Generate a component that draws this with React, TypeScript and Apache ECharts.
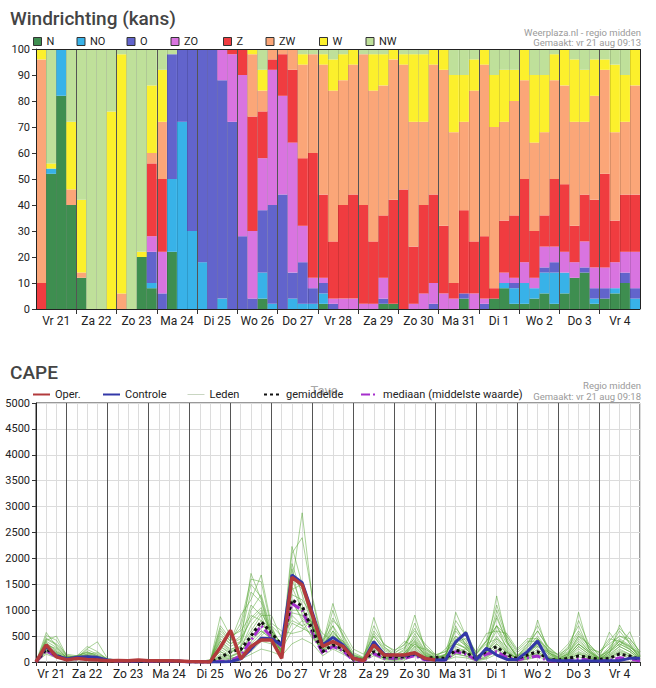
import React, { useEffect, useRef } from 'react';
import * as echarts from 'echarts';

// ---------- shared day labels ----------
const dayLabels = ['Vr 21', 'Za 22', 'Zo 23', 'Ma 24', 'Di 25', 'Wo 26', 'Do 27', 'Vr 28', 'Za 29', 'Zo 30', 'Ma 31', 'Di 1', 'Wo 2', 'Do 3', 'Vr 4'];
const slotHours = ['00', '06', '12', '18'];
const barSlots = dayLabels.flatMap((d) => slotHours.map((h) => `${d} ${h}`));

// ---------- wind direction probabilities (%) per 6h slot ----------
const dirNames = ['N', 'NO', 'O', 'ZO', 'Z', 'ZW', 'W', 'NW'];
const dirColors = ['#3e8e50', '#38b2e8', '#6264cc', '#d974e0', '#f03c40', '#fba678', '#fcf02c', '#bfe09a'];

const probN = [0, 52, 82, 40, 12, 0, 0, 0, 0, 0, 20, 8, 0, 22, 0, 0, 0, 0, 0, 0, 0, 0, 4, 0, 0, 0, 0, 0, 2, 0, 0, 0, 0, 0, 2, 2, 0, 0, 0, 0, 0, 0, 4, 0, 0, 4, 8, 2, 2, 4, 6, 2, 6, 12, 14, 2, 4, 6, 10, 0];
const probNO = [0, 2, 18, 0, 0, 0, 0, 0, 0, 0, 0, 2, 0, 28, 72, 30, 18, 0, 4, 0, 0, 0, 10, 2, 0, 4, 2, 2, 4, 0, 0, 0, 0, 0, 0, 0, 0, 0, 0, 0, 0, 0, 0, 0, 0, 0, 2, 6, 8, 4, 8, 12, 8, 0, 0, 2, 0, 2, 0, 4];
const probO = [0, 0, 0, 0, 0, 0, 0, 0, 0, 0, 0, 12, 6, 48, 28, 70, 82, 100, 84, 72, 28, 4, 24, 38, 44, 10, 16, 6, 4, 2, 0, 0, 0, 0, 2, 0, 0, 0, 0, 2, 0, 0, 2, 0, 2, 0, 0, 2, 0, 0, 2, 4, 0, 0, 2, 4, 4, 0, 4, 4];
const probZO = [0, 0, 0, 0, 0, 0, 0, 0, 0, 0, 0, 6, 16, 0, 0, 0, 0, 0, 12, 26, 62, 26, 20, 52, 38, 50, 14, 4, 2, 2, 4, 4, 2, 2, 8, 0, 0, 2, 6, 8, 6, 4, 0, 6, 2, 0, 4, 2, 8, 4, 8, 6, 8, 6, 10, 8, 8, 10, 8, 14];
const probZ = [10, 0, 0, 0, 0, 0, 0, 0, 0, 0, 0, 28, 28, 0, 0, 0, 0, 0, 0, 2, 10, 44, 18, 4, 16, 28, 26, 48, 32, 22, 36, 40, 38, 24, 24, 40, 46, 22, 34, 34, 26, 6, 32, 20, 24, 4, 20, 24, 32, 18, 12, 26, 26, 14, 18, 26, 36, 16, 22, 22];
const probZW = [86, 0, 0, 6, 2, 0, 0, 0, 6, 0, 0, 4, 22, 0, 0, 0, 0, 0, 0, 0, 0, 24, 8, 4, 2, 8, 36, 38, 50, 58, 48, 50, 58, 58, 50, 54, 48, 48, 32, 50, 60, 58, 34, 58, 66, 62, 38, 44, 38, 34, 32, 38, 38, 40, 28, 40, 40, 34, 28, 42];
const probW = [4, 2, 0, 26, 28, 0, 0, 76, 92, 0, 2, 26, 20, 0, 0, 0, 0, 0, 0, 0, 0, 2, 8, 0, 0, 0, 4, 0, 4, 12, 10, 6, 0, 14, 12, 4, 4, 26, 26, 6, 8, 22, 18, 12, 6, 20, 20, 12, 12, 26, 22, 10, 14, 24, 20, 14, 4, 26, 18, 14];
const probNW = [0, 44, 0, 28, 58, 100, 100, 24, 2, 100, 78, 14, 8, 2, 0, 0, 0, 0, 0, 0, 0, 0, 8, 0, 0, 0, 2, 2, 2, 4, 2, 0, 2, 2, 2, 0, 2, 2, 2, 0, 0, 10, 10, 4, 0, 10, 8, 8, 0, 10, 10, 2, 0, 4, 8, 4, 4, 6, 10, 0];
const dirValues = [probN, probNO, probO, probZO, probZ, probZW, probW, probNW];

// ---------- CAPE (J/kg) every 6 h from vr 21 06:00 ----------
const capeHours = Array.from({ length: 60 }, (_, i) => 6 + 6 * i);
const capeDayLabelHours = [15, 36, 60, 84, 108, 132, 156, 180, 204, 228, 252, 276, 300, 324, 348];

const capeOper = [0, 330, 100, 40, 70, 50, 40, 25, 30, 25, 40, 25, 25, 25, 20, 10, 5, 0, 280, 610, 60, 300, 425, 425, 70, 1635, 1490, 900, 300, 395, 300, 70, 25, 330, 135, 135, 135, 180, 70, 40];
const capeControle = [0, 300, 120, 60, 90, 100, 90, 40, 20, 20, 30, 20, 20, 20, 20, 0, 0, 0, 0, 10, 60, 250, 460, 450, 330, 1680, 1530, 950, 330, 475, 330, 80, 20, 390, 150, 130, 120, 160, 60, 40, 40, 390, 565, 40, 265, 135, 50, 50, 200, 405, 40, 25, 25, 20, 20, 20, 25, 30, 70, 70];
const capeMean = [0, 250, 120, 60, 70, 90, 60, 30, 25, 25, 30, 20, 20, 20, 15, 5, 0, 0, 80, 200, 240, 500, 780, 560, 330, 1200, 1080, 620, 200, 330, 250, 50, 40, 200, 100, 100, 100, 155, 70, 90, 70, 230, 180, 70, 210, 295, 135, 70, 135, 200, 50, 40, 70, 115, 90, 50, 70, 155, 115, 50];
const capeMedian = [0, 220, 100, 50, 60, 70, 50, 25, 20, 20, 25, 15, 15, 15, 10, 0, 0, 0, 10, 20, 120, 420, 700, 480, 300, 1130, 1000, 560, 170, 300, 220, 30, 20, 160, 70, 70, 70, 120, 40, 40, 40, 200, 150, 40, 150, 200, 90, 40, 80, 115, 25, 20, 30, 60, 40, 20, 30, 80, 60, 20];

const capeMembers = [
  [0, 570, 300, 80, 120, 200, 120, 40, 30, 20, 20, 10, 10, 10, 5, 0, 0, 0, 300, 150, 400, 1710, 1200, 500, 200, 2230, 1500, 700, 250, 600, 350, 80, 50, 400, 150, 80, 150, 350, 120, 50, 60, 400, 250, 60, 250, 1275, 400, 80, 150, 350, 100, 40, 80, 300, 150, 40, 200, 400, 250, 60],
  [0, 420, 500, 120, 90, 260, 390, 60, 30, 20, 10, 10, 5, 5, 0, 0, 0, 0, 600, 400, 900, 1200, 1680, 700, 250, 1500, 2880, 1200, 350, 1130, 500, 120, 70, 860, 300, 120, 250, 905, 250, 100, 50, 960, 500, 80, 200, 700, 250, 50, 120, 810, 200, 40, 70, 250, 120, 40, 150, 715, 350, 70],
  [0, 300, 180, 60, 50, 120, 80, 30, 20, 20, 30, 20, 10, 10, 10, 0, 0, 20, 200, 100, 200, 500, 700, 600, 350, 1000, 1000, 700, 200, 400, 250, 60, 40, 250, 100, 80, 90, 250, 80, 40, 60, 250, 180, 50, 150, 350, 180, 60, 100, 250, 80, 30, 120, 960, 250, 50, 120, 250, 150, 40],
  [0, 380, 200, 100, 60, 90, 60, 20, 10, 10, 10, 5, 5, 5, 0, 0, 0, 0, 875, 500, 600, 900, 800, 450, 200, 1800, 900, 600, 200, 500, 400, 150, 80, 350, 120, 90, 120, 350, 150, 70, 120, 350, 600, 150, 350, 450, 300, 100, 250, 300, 200, 70, 150, 350, 200, 70, 575, 300, 585, 120],
  [0, 250, 120, 40, 100, 150, 180, 50, 30, 30, 40, 20, 20, 20, 10, 0, 0, 0, 100, 50, 150, 300, 500, 700, 500, 800, 700, 800, 400, 700, 250, 40, 30, 200, 70, 50, 70, 180, 50, 30, 30, 150, 120, 40, 90, 250, 120, 40, 70, 150, 60, 20, 40, 150, 80, 30, 80, 200, 120, 40],
  [0, 200, 90, 30, 40, 60, 40, 20, 20, 10, 10, 10, 10, 10, 5, 0, 0, 50, 400, 250, 300, 1000, 1300, 600, 150, 1600, 1100, 500, 180, 350, 220, 50, 30, 300, 100, 60, 100, 500, 200, 60, 150, 500, 350, 150, 400, 700, 350, 120, 200, 450, 250, 80, 250, 550, 300, 80, 300, 500, 400, 150],
  [0, 460, 350, 150, 120, 180, 100, 40, 20, 20, 20, 10, 10, 10, 0, 0, 0, 0, 150, 80, 100, 200, 400, 350, 250, 600, 800, 450, 250, 800, 600, 250, 150, 500, 250, 150, 350, 600, 350, 150, 50, 200, 250, 80, 200, 400, 200, 50, 100, 200, 80, 30, 80, 200, 120, 40, 120, 300, 200, 50],
  [0, 150, 80, 50, 80, 100, 70, 30, 30, 20, 20, 20, 10, 10, 10, 0, 0, 0, 500, 350, 450, 800, 1000, 500, 100, 1400, 1500, 900, 300, 450, 300, 90, 50, 400, 180, 100, 180, 400, 130, 60, 100, 700, 300, 70, 300, 850, 400, 90, 350, 600, 300, 120, 200, 500, 350, 120, 200, 400, 300, 100],
  [0, 330, 260, 90, 70, 240, 150, 60, 40, 30, 30, 20, 20, 10, 10, 0, 0, 30, 50, 20, 50, 150, 250, 200, 120, 350, 450, 350, 120, 250, 150, 40, 20, 120, 40, 30, 40, 120, 40, 20, 30, 100, 80, 20, 60, 150, 80, 20, 50, 100, 40, 10, 30, 100, 60, 20, 60, 150, 80, 20],
  [0, 280, 150, 70, 60, 80, 50, 20, 10, 10, 10, 10, 10, 5, 5, 0, 0, 0, 350, 200, 300, 600, 900, 900, 450, 1200, 800, 700, 350, 550, 400, 130, 70, 600, 350, 200, 400, 300, 250, 130, 200, 400, 450, 200, 550, 600, 550, 250, 450, 450, 220, 150, 350, 700, 250, 200, 350, 500, 450, 200],
  [0, 510, 420, 110, 100, 130, 90, 30, 20, 20, 20, 20, 10, 10, 5, 0, 0, 0, 250, 120, 200, 450, 600, 450, 220, 900, 700, 500, 220, 300, 180, 60, 30, 200, 80, 50, 80, 220, 70, 30, 60, 300, 200, 60, 180, 350, 180, 50, 120, 300, 120, 40, 100, 300, 150, 50, 150, 300, 200, 60],
  [0, 220, 110, 40, 50, 70, 50, 20, 10, 10, 10, 10, 5, 5, 0, 0, 0, 0, 700, 450, 650, 1500, 1250, 550, 220, 1900, 1300, 700, 280, 1000, 450, 100, 50, 500, 220, 130, 220, 750, 300, 100, 150, 600, 350, 100, 250, 1000, 450, 130, 300, 600, 280, 90, 180, 400, 220, 90, 250, 600, 350, 130],
  [0, 350, 230, 80, 120, 300, 200, 50, 30, 20, 20, 10, 10, 10, 5, 0, 0, 10, 80, 30, 70, 350, 550, 750, 600, 550, 600, 850, 550, 400, 280, 70, 40, 180, 70, 40, 90, 280, 100, 50, 40, 180, 180, 40, 110, 300, 130, 30, 90, 180, 90, 30, 50, 180, 100, 30, 100, 220, 150, 40],
  [0, 180, 100, 60, 70, 90, 60, 20, 20, 20, 20, 10, 10, 10, 10, 0, 0, 0, 450, 300, 400, 1100, 900, 350, 180, 1300, 1200, 900, 300, 600, 350, 130, 60, 550, 280, 180, 280, 450, 180, 90, 250, 500, 300, 160, 400, 700, 500, 220, 400, 400, 180, 100, 300, 600, 300, 180, 450, 400, 280, 180],
  [0, 400, 280, 100, 90, 160, 110, 40, 20, 20, 20, 10, 10, 10, 5, 0, 0, 0, 200, 100, 180, 550, 800, 650, 320, 950, 900, 700, 280, 500, 300, 90, 40, 300, 130, 90, 130, 300, 110, 50, 80, 350, 280, 80, 200, 500, 220, 70, 160, 350, 160, 50, 130, 350, 180, 60, 180, 350, 250, 80],
  [0, 260, 160, 50, 60, 110, 70, 30, 20, 10, 10, 10, 10, 5, 5, 0, 0, 0, 550, 350, 500, 1350, 1150, 500, 120, 1650, 1400, 800, 230, 700, 400, 90, 40, 350, 180, 90, 180, 550, 220, 80, 130, 650, 400, 100, 260, 900, 380, 110, 280, 500, 230, 70, 160, 500, 250, 80, 250, 450, 320, 110],
  [0, 310, 200, 70, 80, 140, 90, 30, 20, 20, 20, 20, 10, 10, 5, 0, 0, 0, 120, 60, 120, 400, 600, 450, 280, 750, 650, 550, 180, 350, 220, 60, 30, 160, 60, 40, 70, 180, 60, 30, 30, 160, 110, 30, 80, 220, 110, 30, 60, 160, 60, 20, 40, 160, 80, 30, 80, 180, 110, 30],
  [0, 240, 130, 40, 50, 100, 60, 20, 10, 10, 10, 10, 10, 10, 5, 0, 0, 0, 650, 400, 750, 1600, 1550, 650, 170, 2100, 2400, 1250, 420, 850, 520, 180, 90, 700, 330, 230, 330, 650, 280, 140, 200, 800, 500, 180, 420, 1100, 500, 180, 350, 700, 300, 140, 260, 800, 350, 140, 400, 650, 450, 200],
  [0, 440, 330, 120, 110, 190, 130, 50, 30, 20, 20, 10, 10, 10, 5, 0, 0, 0, 300, 180, 280, 700, 950, 600, 210, 1150, 850, 650, 220, 420, 280, 80, 45, 280, 110, 70, 140, 380, 140, 60, 100, 350, 260, 80, 190, 450, 200, 60, 150, 350, 150, 50, 120, 350, 190, 60, 190, 350, 240, 80],
  [0, 290, 170, 60, 70, 120, 80, 30, 20, 20, 20, 10, 10, 10, 5, 0, 0, 0, 400, 220, 380, 850, 1050, 550, 160, 1450, 1000, 750, 260, 520, 330, 100, 55, 420, 170, 100, 170, 420, 170, 70, 140, 450, 320, 90, 260, 600, 280, 80, 200, 450, 190, 60, 160, 450, 210, 70, 230, 420, 300, 100],
];

const FONT = 'Roboto, "DejaVu Sans", sans-serif';

function pairs(values: (number | null)[]) {
  return values.map((v, i) => [capeHours[i], v]);
}

function buildOption() {
  // overlay lines for the direction chart (bar edges, day separators, frame)
  const overlay: any[] = [];
  for (let k = 1; k < 60; k++) {
    if (k % 4 !== 0) overlay.push({ xAxis: k, lineStyle: { color: 'rgba(0,0,0,0.13)', width: 1, type: 'solid' } });
  }
  for (let k = 4; k < 60; k += 4) overlay.push({ xAxis: k, lineStyle: { color: '#555', width: 1, type: 'solid' } });
  overlay.push({ xAxis: 0, lineStyle: { color: '#222', width: 1, type: 'solid' } });
  overlay.push({ xAxis: 60, lineStyle: { color: '#222', width: 1, type: 'solid' } });
  overlay.push({ yAxis: 0, lineStyle: { color: '#222', width: 1, type: 'solid' } });
  overlay.push({ yAxis: 100, lineStyle: { color: '#222', width: 1, type: 'solid' } });

  const capeDayLines: any[] = [];
  for (let h = 24; h < 360; h += 24) capeDayLines.push({ xAxis: h, lineStyle: { color: '#555', width: 1, type: 'solid' } });

  const topLegendX = [34, 77.5, 127.5, 171.5, 224, 266.5, 320, 366.5];
  const legends: any[] = dirNames.map((name, i) => ({
    data: [{ name, icon: 'rect' }],
    left: topLegendX[i] - 1,
    top: 36,
    itemWidth: 8,
    itemHeight: 8,
    selectedMode: false,
    itemStyle: { borderColor: '#333', borderWidth: 1 },
    textStyle: { fontSize: 11, color: '#222', fontFamily: FONT },
    padding: 0,
  }));
  const capeLegend = [
    { name: 'Oper.', x: 32 },
    { name: 'Controle', x: 102 },
    { name: 'Leden', x: 187 },
    { name: 'gemiddelde', x: 263 },
    { name: 'mediaan (middelste waarde)', x: 360 },
  ];
  capeLegend.forEach((l) => {
    legends.push({
      data: [{ name: l.name }],
      left: l.x,
      top: 389,
      itemWidth: 17,
      itemHeight: 10,
      selectedMode: false,
      padding: 0,
      itemStyle: { opacity: 0 },
      textStyle: { fontSize: 11, color: '#222', fontFamily: FONT },
      ...(l.name === 'Leden' ? { lineStyle: { color: '#c9d6c2', width: 1 } } : {}),
    });
  });

  const barSeries = dirNames.map((name, i) => ({
    name,
    type: 'bar',
    stack: 'dir',
    xAxisIndex: 0,
    yAxisIndex: 0,
    barCategoryGap: '0%',
    barGap: '0%',
    itemStyle: { color: dirColors[i] },
    data: dirValues[i],
    z: 2,
  }));

  const memberSeries = capeMembers.map((m) => ({
    name: 'Leden',
    type: 'line',
    xAxisIndex: 2,
    yAxisIndex: 1,
    symbol: 'none',
    showSymbol: false,
    silent: true,
    z: 2,
    lineStyle: { color: 'rgba(84,165,50,0.5)', width: 1 },
    itemStyle: { color: 'rgba(84,165,50,0.5)' },
    data: pairs(m),
  }));

  const text = (t: string, x: number, y: number, size: number, color: string, align: string) => ({
    type: 'text',
    x,
    y,
    silent: true,
    style: { text: t, fill: color, font: `${size}px ${FONT}`, textAlign: align, textVerticalAlign: 'middle' },
  });

  return {
    animation: false,
    backgroundColor: '#fff',
    textStyle: { fontFamily: FONT },
    title: [
      { text: 'Windrichting (kans)', left: 5, top: 4, textStyle: { fontSize: 19, fontWeight: 500, color: '#444', fontFamily: FONT } },
      { text: 'CAPE', left: 5, top: 358, textStyle: { fontSize: 19, fontWeight: 500, color: '#444', fontFamily: FONT } },
    ],
    graphic: [
      text('Weerplaza.nl - regio midden', 641, 32, 9.5, '#9a9a9a', 'right'),
      text('Gemaakt: vr 21 aug 09:13', 641, 42, 9.5, '#9a9a9a', 'right'),
      text('Regio midden', 641, 385, 9.5, '#9a9a9a', 'right'),
      text('Gemaakt: vr 21 aug 09:18', 641, 396, 9.5, '#9a9a9a', 'right'),
      text('Tave', 324, 390, 13, '#a8a8a8', 'center'),
    ],
    legend: legends,
    grid: [
      { left: 36, top: 49, width: 604, height: 260, show: false },
      { left: 36, top: 403, width: 604, height: 259, show: true, borderColor: '#333', borderWidth: 1, backgroundColor: '#fff' },
    ],
    xAxis: [
      { type: 'category', gridIndex: 0, data: barSlots, show: false, boundaryGap: true },
      {
        type: 'value',
        gridIndex: 0,
        min: 0,
        max: 60,
        position: 'bottom',
        axisLine: { show: true, lineStyle: { color: '#222' } },
        axisTick: { show: true, length: 5, customValues: [4, 8, 12, 16, 20, 24, 28, 32, 36, 40, 44, 48, 52, 56], lineStyle: { color: '#333' } },
        axisLabel: {
          customValues: [2, 6, 10, 14, 18, 22, 26, 30, 34, 38, 42, 46, 50, 54, 58],
          formatter: (v: number) => dayLabels[Math.round((v - 2) / 4)] ?? '',
          margin: 6,
          fontSize: 12,
          color: '#222',
          fontFamily: FONT,
        },
        splitLine: { show: false },
      },
      {
        type: 'value',
        gridIndex: 1,
        min: 6,
        max: 360,
        interval: 6,
        axisLine: { show: true, lineStyle: { color: '#222' } },
        axisTick: { show: true, length: 4, lineStyle: { color: '#333' } },
        axisLabel: {
          customValues: capeDayLabelHours,
          formatter: (v: number) => dayLabels[capeDayLabelHours.indexOf(v)] ?? '',
          margin: 6,
          fontSize: 12,
          color: '#222',
          fontFamily: FONT,
        },
        splitLine: { show: true, lineStyle: { color: '#dcdcdc', width: 1 } },
      },
    ],
    yAxis: [
      {
        type: 'value',
        gridIndex: 0,
        min: 0,
        max: 100,
        interval: 10,
        axisLine: { show: true, lineStyle: { color: '#222' } },
        axisTick: { show: true, length: 4, lineStyle: { color: '#333' } },
        axisLabel: { margin: 6, fontSize: 11, color: '#222', fontFamily: FONT, formatter: (v: number) => String(v) },
        splitLine: { show: false },
      },
      {
        type: 'value',
        gridIndex: 1,
        min: 0,
        max: 5000,
        interval: 250,
        axisLine: { show: true, lineStyle: { color: '#222' } },
        axisTick: { show: true, length: 4, customValues: [0, 500, 1000, 1500, 2000, 2500, 3000, 3500, 4000, 4500, 5000], lineStyle: { color: '#333' } },
        axisLabel: {
          customValues: [0, 500, 1000, 1500, 2000, 2500, 3000, 3500, 4000, 4500, 5000],
          margin: 6,
          fontSize: 11,
          color: '#222',
          fontFamily: FONT,
          formatter: (v: number) => String(v),
        },
        splitLine: { show: true, lineStyle: { color: '#dcdcdc', width: 1 } },
      },
    ],
    series: [
      ...barSeries,
      {
        name: '__overlay',
        type: 'line',
        xAxisIndex: 1,
        yAxisIndex: 0,
        data: [],
        symbol: 'none',
        silent: true,
        z: 10,
        markLine: { silent: true, symbol: ['none', 'none'], label: { show: false }, animation: false, data: overlay },
      },
      {
        name: '__daylines',
        type: 'line',
        xAxisIndex: 2,
        yAxisIndex: 1,
        data: [],
        symbol: 'none',
        silent: true,
        z: 1,
        markLine: { silent: true, symbol: ['none', 'none'], label: { show: false }, animation: false, data: capeDayLines },
      },
      ...memberSeries,
      {
        name: 'mediaan (middelste waarde)',
        type: 'line',
        xAxisIndex: 2,
        yAxisIndex: 1,
        symbol: 'none',
        showSymbol: false,
        z: 3,
        lineStyle: { color: '#a52fcc', width: 3, type: [9, 3, 2, 3] },
        itemStyle: { color: '#a52fcc' },
        data: pairs(capeMedian),
      },
      {
        name: 'gemiddelde',
        type: 'line',
        xAxisIndex: 2,
        yAxisIndex: 1,
        symbol: 'none',
        showSymbol: false,
        z: 4,
        lineStyle: { color: '#111', width: 3, type: [3, 3] },
        itemStyle: { color: '#111' },
        data: pairs(capeMean),
      },
      {
        name: 'Controle',
        type: 'line',
        xAxisIndex: 2,
        yAxisIndex: 1,
        symbol: 'none',
        showSymbol: false,
        z: 5,
        lineStyle: { color: '#3338a8', width: 3 },
        itemStyle: { color: '#3338a8' },
        data: pairs(capeControle),
      },
      {
        name: 'Oper.',
        type: 'line',
        xAxisIndex: 2,
        yAxisIndex: 1,
        symbol: 'none',
        showSymbol: false,
        z: 6,
        lineStyle: { color: '#b23a3c', width: 3.5 },
        itemStyle: { color: '#b23a3c' },
        data: pairs(capeOper),
      },
    ],
  };
}

export default function App() {
  const ref = useRef<HTMLDivElement>(null);
  useEffect(() => {
    document.body.style.margin = '0';
    if (!ref.current) return;
    const chart = echarts.init(ref.current, undefined, { renderer: 'svg' });
    chart.setOption(buildOption() as any);
    return () => chart.dispose();
  }, []);
  return <div ref={ref} style={{ width: 656, height: 688, background: '#fff' }} />;
}
